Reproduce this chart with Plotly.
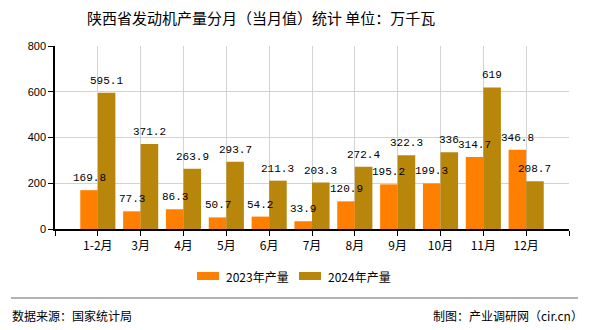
import plotly.graph_objects as go

categories = ["1-2月", "3月", "4月", "5月", "6月", "7月", "8月", "9月", "10月", "11月", "12月"]
values_2023 = [169.8, 77.3, 86.3, 50.7, 54.2, 33.9, 120.9, 195.2, 199.3, 314.7, 346.8]
values_2024 = [595.1, 371.2, 263.9, 293.7, 211.3, 203.3, 272.4, 322.3, 336, 619, 208.7]
label_2023 = ["169.8", "77.3", "86.3", "50.7", "54.2", "33.9", "120.9", "195.2", "199.3", "314.7", "346.8"]
label_2024 = ["595.1", "371.2", "263.9", "293.7", "211.3", "203.3", "272.4", "322.3", "336", "619", "208.7"]
series_names = ["2023年产量", "2024年产量"]
colors = ["#FF8000", "#B8860B"]
title_text = "陕西省发动机产量分月（当月值）统计 单位：万千瓦"
source_text = "数据来源：国家统计局"
credit_text = "制图：产业调研网（cir.cn）"

idx = list(range(len(categories)))
CJK = "Noto Sans CJK SC, Liberation Sans, sans-serif"
MONO = "Liberation Mono, DejaVu Sans Mono, monospace"

L, R, T, B = 55, 21, 46, 101
W, H = 590, 330
pw, ph = W - L - R, H - T - B

def px(x):
    return (x - L) / pw

def py(y):
    return (H - B - y) / ph

fig = go.Figure()
fig.add_trace(go.Bar(x=idx, y=values_2023, name=series_names[0], marker_color=colors[0],
                     marker_line_width=0, showlegend=False))
fig.add_trace(go.Bar(x=idx, y=values_2024, name=series_names[1], marker_color=colors[1],
                     marker_line_width=0, showlegend=False))

off = 0.205
ann = []
for i in idx:
    ann.append(dict(x=i - off, y=values_2023[i], text=label_2023[i], xref="x", yref="y",
                    showarrow=False, yanchor="bottom", yshift=4,
                    font=dict(family=MONO, size=11, color="#000")))
    ann.append(dict(x=i + off, y=values_2024[i], text=label_2024[i], xref="x", yref="y",
                    showarrow=False, yanchor="bottom", yshift=4,
                    font=dict(family=MONO, size=11, color="#000")))

ann.append(dict(x=px(261), y=py(17), xref="paper", yref="paper", text=title_text,
                showarrow=False, xanchor="center", yanchor="middle",
                font=dict(family=CJK, size=15, color="#000")))
ann.append(dict(x=px(10), y=py(315), xref="paper", yref="paper", text=source_text,
                xanchor="left", yanchor="middle", showarrow=False,
                font=dict(family=CJK, size=12, color="#000")))
ann.append(dict(x=px(585), y=py(315), xref="paper", yref="paper", text=credit_text,
                xanchor="right", yanchor="middle", showarrow=False,
                font=dict(family=CJK, size=12, color="#000")))

leg_x = [224, 326]
sw_x = [197, 299]
shapes = []
for k in range(2):
    ann.append(dict(x=px(leg_x[k]), y=py(276), xref="paper", yref="paper", text=series_names[k],
                    xanchor="left", yanchor="middle", showarrow=False,
                    font=dict(family=CJK, size=12, color="#000")))
    shapes.append(dict(type="rect", xref="paper", yref="paper",
                       x0=px(sw_x[k]), x1=px(sw_x[k] + 22), y0=py(280), y1=py(272),
                       fillcolor=colors[k], line=dict(width=0)))
shapes.append(dict(type="line", xref="paper", yref="paper", x0=px(11), x1=px(578),
                   y0=py(298), y1=py(298), line=dict(color="#999999", width=1.5)))

fig.update_layout(
    width=W, height=H,
    margin=dict(l=L, r=R, t=T, b=B, pad=0),
    paper_bgcolor="white", plot_bgcolor="white",
    barmode="group", bargap=0.18, bargroupgap=0,
    annotations=ann, shapes=shapes,
    font=dict(family=CJK, size=12, color="#000"),
    showlegend=False,
)
fig.update_xaxes(
    type="linear", range=[-1, 11],
    tickvals=list(range(-1, 12)), ticktext=[""] + categories + [""],
    showgrid=True, gridcolor="#d3d3d3", gridwidth=1,
    showline=True, linecolor="#000", linewidth=1.5,
    ticks="outside", ticklen=5, tickcolor="#000",
    tickfont=dict(family=CJK, size=12, color="#000"),
    zeroline=False, fixedrange=True,
)
fig.update_yaxes(
    range=[0, 800], dtick=200, tick0=0,
    showgrid=True, gridcolor="#d3d3d3", gridwidth=1,
    showline=True, linecolor="#000", linewidth=1.5,
    ticks="outside", ticklen=5, tickcolor="#000",
    tickfont=dict(family="Liberation Sans, sans-serif", size=11, color="#000"),
    zeroline=False, fixedrange=True,
)

fig.write_html("out.html")
